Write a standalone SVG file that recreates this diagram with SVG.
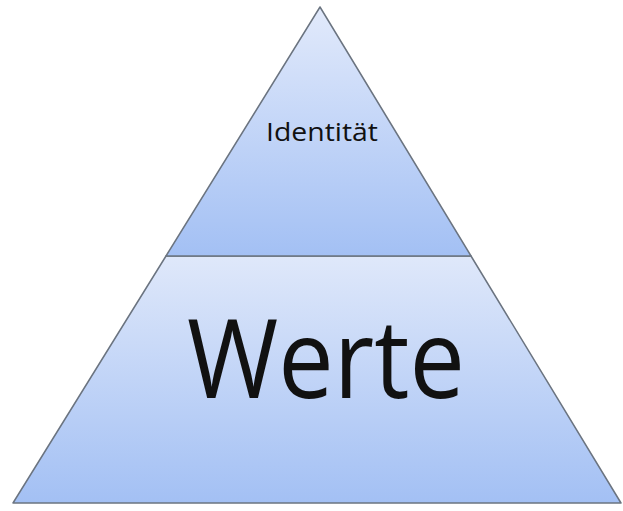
<svg xmlns="http://www.w3.org/2000/svg" width="623" height="511" viewBox="0 0 623 511">
<style>
.sec{stroke:#6b7480;stroke-width:1.5;stroke-linejoin:round}
.lbl{font-family:"Open Sans","Liberation Sans",sans-serif;fill:#111;text-anchor:middle}
</style>
<defs>
<linearGradient id="gTop" x1="0" y1="0" x2="0" y2="1">
<stop offset="0" stop-color="#e2eafb"/>
<stop offset="1" stop-color="#a3c0f4"/>
</linearGradient>
<linearGradient id="gBot" x1="0" y1="0" x2="0" y2="1">
<stop offset="0" stop-color="#dfe8fa"/>
<stop offset="1" stop-color="#a3c0f4"/>
</linearGradient>
</defs>
<rect width="623" height="511" fill="#ffffff"/>
<g id="bottom">
<polygon class="sec" points="166,256 471,256 621,503 13,503" fill="url(#gBot)"/>
<text class="lbl" x="326" y="398" font-size="110" textLength="278" lengthAdjust="spacingAndGlyphs">Werte</text>
</g>
<g id="top">
<polygon class="sec" points="320,7 471,256 166,256" fill="url(#gTop)"/>
<text class="lbl" x="322" y="141" font-size="26" textLength="112" lengthAdjust="spacingAndGlyphs">Identität</text>
</g>
</svg>
